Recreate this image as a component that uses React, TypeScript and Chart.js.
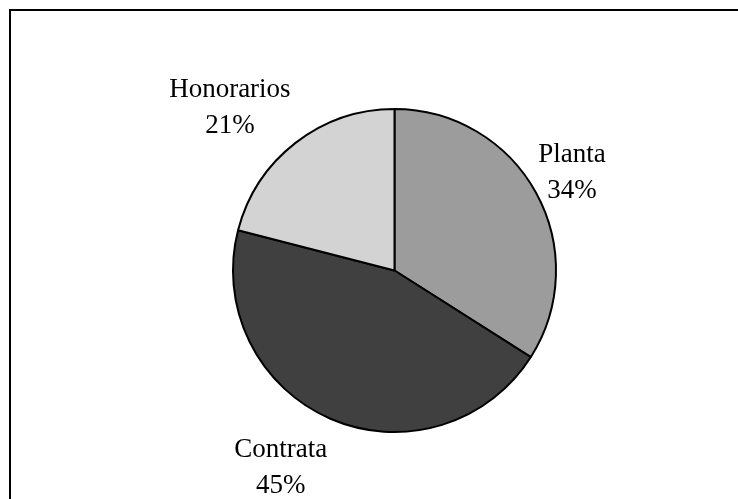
import React, { useEffect, useRef } from "react";
import { Chart, registerables } from "chart.js";

Chart.register(...registerables);

const categories = ["Planta", "Contrata", "Honorarios"];
const values = [34, 45, 21];
const percentLabels = ["34%", "45%", "21%"];
const sliceColors = ["#9c9c9c", "#404040", "#d3d3d3"];

const FONT = "27px 'Liberation Serif', 'Times New Roman', serif";
const LINE_H = 36;

const framePlugin = {
  id: "frame",
  beforeDraw(chart: any) {
    const ctx = chart.ctx;
    ctx.save();
    ctx.fillStyle = "#ffffff";
    ctx.fillRect(0, 0, chart.width, chart.height);
    ctx.strokeStyle = "#000000";
    ctx.lineWidth = 2;
    ctx.strokeRect(10, 10, chart.width + 20, chart.height + 20);
    ctx.restore();
  },
};

const labelPlugin = {
  id: "outsideLabels",
  afterDatasetsDraw(chart: any) {
    const ctx = chart.ctx;
    const meta = chart.getDatasetMeta(0);
    ctx.save();
    ctx.font = FONT;
    ctx.fillStyle = "#000000";
    ctx.textAlign = "center";
    ctx.textBaseline = "middle";
    meta.data.forEach((arc: any, i: number) => {
      const { x, y, startAngle, endAngle, outerRadius } = arc.getProps(
        ["x", "y", "startAngle", "endAngle", "outerRadius"],
        true
      );
      const mid = (startAngle + endAngle) / 2;
      const dx = Math.cos(mid);
      const dy = Math.sin(mid);
      const gap = 8;
      const px = x + (outerRadius + gap) * dx;
      const py = y + (outerRadius + gap) * dy;
      const lines = [categories[i], percentLabels[i]];
      const w = Math.max(...lines.map((l) => ctx.measureText(l).width));
      const h = LINE_H * lines.length;
      const cx = px + Math.sign(dx) * w / 2 * Math.min(1, 0.75 / Math.abs(dx));
      const cy = py + dy * (h / 2 + 5) + 4;
      lines.forEach((l, k) => {
        ctx.fillText(l, cx, cy - h / 2 + LINE_H * (k + 0.5));
      });
    });
    ctx.restore();
  },
};

export default function App() {
  const ref = useRef<HTMLCanvasElement | null>(null);
  useEffect(() => {
    if (!ref.current) return;
    const chart = new Chart(ref.current, {
      type: "pie",
      data: {
        labels: categories,
        datasets: [
          {
            data: values,
            backgroundColor: sliceColors,
            borderColor: "#000000",
            borderWidth: 2,
          },
        ],
      },
      options: {
        animation: false,
        responsive: false,
        devicePixelRatio: 1,
        layout: { padding: { top: 108, bottom: 66, left: 200, right: 149 } },
        plugins: {
          legend: { display: false },
          tooltip: { enabled: false },
          title: { display: false },
        },
      },
      plugins: [framePlugin, labelPlugin],
    });
    return () => chart.destroy();
  }, []);
  return (
    <canvas
      ref={ref}
      width={738}
      height={499}
      style={{ position: "absolute", left: 0, top: 0, width: 738, height: 499 }}
    />
  );
}
